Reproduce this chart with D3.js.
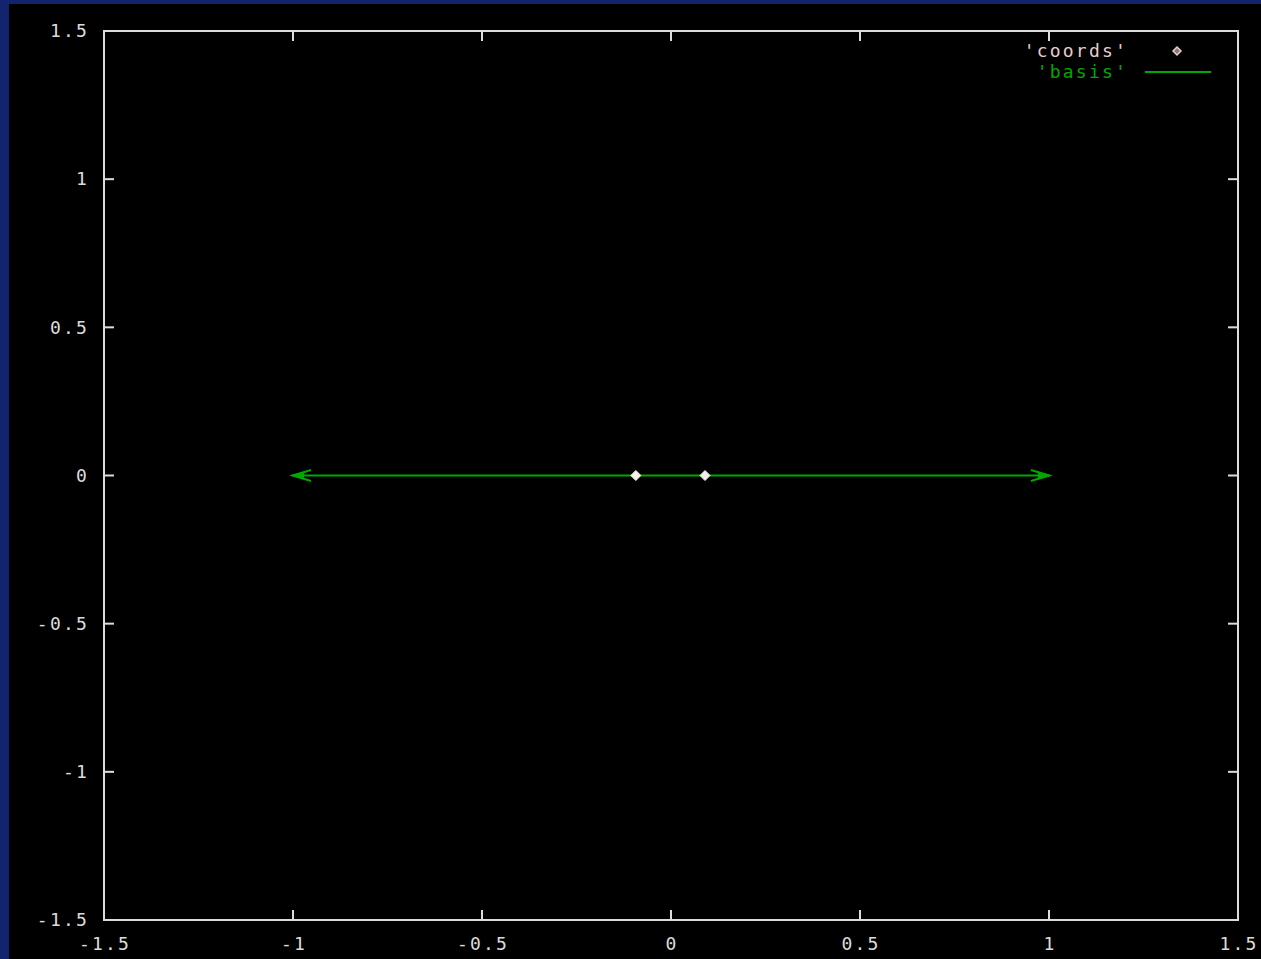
<!DOCTYPE html>
<html>
<head>
<meta charset="utf-8">
<script src="https://cdn.jsdelivr.net/npm/d3@7"></script>
<style>
  html, body { margin: 0; padding: 0; background: #13246e; overflow: hidden; }
  svg { display: block; }
  text { font-family: "DejaVu Sans Mono", monospace; font-size: 18px; letter-spacing: 2.2px; }
</style>
</head>
<body>
<script>
// Axis ranges and tick labels
const xDomain = [-1.5, 1.5];
const yDomain = [-1.5, 1.5];
const xTicks = [-1.5, -1, -0.5, 0, 0.5, 1, 1.5];
const yTicks = [-1.5, -1, -0.5, 0, 0.5, 1, 1.5];

// 'coords' points
const coordsX = [-0.093, 0.090];
const coordsY = [0, 0];

// 'basis' vectors (start -> end)
const basisX0 = [0, 0];
const basisY0 = [0, 0];
const basisDX = [1, -1];
const basisDY = [0, 0];

const legendNames = ["'coords'", "'basis'"];

const W = 1261, H = 959;
const frame = { left: 104, right: 1238, top: 31, bottom: 920 };
const fg = "#dcdcdc", green = "#00a800", pointCol = "#f6eeee", coordsLabel = "#e6cccc";

const svg = d3.select("body").append("svg").attr("width", W).attr("height", H);
svg.append("rect").attr("x", 9).attr("y", 4).attr("width", W - 9).attr("height", H - 4).attr("fill", "#000");

const x = d3.scaleLinear().domain(xDomain).range([frame.left, frame.right]);
const y = d3.scaleLinear().domain(yDomain).range([frame.bottom, frame.top]);

// Frame with mirrored inward ticks
const tickLen = 10;
const axes = svg.append("g").attr("stroke", fg).attr("stroke-width", 2).attr("fill", "none");
axes.append("rect")
  .attr("x", frame.left).attr("y", frame.top)
  .attr("width", frame.right - frame.left).attr("height", frame.bottom - frame.top);
xTicks.slice(1, -1).forEach(t => {
  axes.append("line").attr("x1", x(t)).attr("x2", x(t)).attr("y1", frame.bottom).attr("y2", frame.bottom - tickLen);
  axes.append("line").attr("x1", x(t)).attr("x2", x(t)).attr("y1", frame.top).attr("y2", frame.top + tickLen);
});
yTicks.slice(1, -1).forEach(t => {
  axes.append("line").attr("y1", y(t)).attr("y2", y(t)).attr("x1", frame.left).attr("x2", frame.left + tickLen);
  axes.append("line").attr("y1", y(t)).attr("y2", y(t)).attr("x1", frame.right).attr("x2", frame.right - tickLen);
});

// Tick labels
svg.append("g").selectAll("text").data(xTicks).join("text")
  .attr("x", d => x(d) + 1).attr("y", 944).attr("dy", "0.35em")
  .attr("text-anchor", "middle").attr("fill", fg).text(d => String(d));
svg.append("g").selectAll("text").data(yTicks).join("text")
  .attr("x", 89).attr("y", d => y(d)).attr("dy", "0.35em")
  .attr("text-anchor", "end").attr("fill", fg).text(d => String(d));

// Basis vectors with arrow heads
const plot = svg.append("g");
const headLen = 18, headHalf = 5.5;
basisDX.forEach((dx, i) => {
  const x0 = x(basisX0[i]), y0 = y(basisY0[i]);
  const x1 = x(basisX0[i] + dx), y1 = y(basisY0[i] + basisDY[i]);
  plot.append("line").attr("x1", x0).attr("y1", y0).attr("x2", x1).attr("y2", y1)
    .attr("stroke", green).attr("stroke-width", 2);
  const ang = Math.atan2(y1 - y0, x1 - x0);
  const bx = x1 - headLen * Math.cos(ang), by = y1 - headLen * Math.sin(ang);
  const px = -Math.sin(ang) * headHalf, py = Math.cos(ang) * headHalf;
  plot.append("path")
    .attr("d", `M${bx + px},${by + py}L${x1},${y1}L${bx - px},${by - py}`)
    .attr("fill", "none").attr("stroke", green).attr("stroke-width", 2);
  plot.append("path")
    .attr("d", `M${x1},${y1}L${x1 - 10 * Math.cos(ang) + px * 0.5},${y1 + py * 0.5 - 10 * Math.sin(ang)}L${x1 - 10 * Math.cos(ang) - px * 0.5},${y1 - py * 0.5 - 10 * Math.sin(ang)}Z`)
    .attr("fill", green).attr("stroke", green).attr("stroke-width", 2);
});

// Coords points (small diamonds)
const diamond = (cx, cy, r) => `M${cx},${cy - r}L${cx + r},${cy}L${cx},${cy + r}L${cx - r},${cy}Z`;
plot.selectAll("path.pt").data(coordsX).join("path").attr("class", "pt")
  .attr("d", (d, i) => diamond(x(d), y(coordsY[i]), 5))
  .attr("fill", pointCol).attr("stroke", pointCol).attr("stroke-width", 1);

// Legend
const legend = svg.append("g");
legend.append("text").attr("x", 1128).attr("y", 51).attr("dy", "0.35em")
  .attr("text-anchor", "end").attr("fill", coordsLabel).text(legendNames[0]);
legend.append("path").attr("d", diamond(1177, 51, 4)).attr("fill", "#8a7878")
  .attr("stroke", coordsLabel).attr("stroke-width", 1.5);
legend.append("text").attr("x", 1128).attr("y", 72).attr("dy", "0.35em")
  .attr("text-anchor", "end").attr("fill", green).text(legendNames[1]);
legend.append("line").attr("x1", 1145).attr("x2", 1211).attr("y1", 72).attr("y2", 72)
  .attr("stroke", green).attr("stroke-width", 2);
</script>
</body>
</html>
